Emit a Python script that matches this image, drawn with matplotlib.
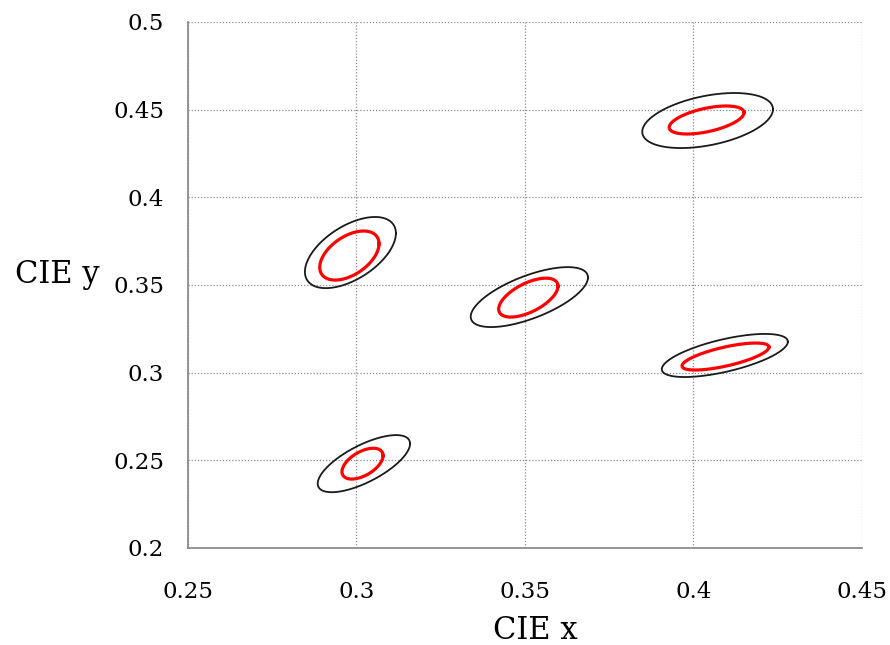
import numpy as np
import matplotlib
matplotlib.use("Agg")
import matplotlib.pyplot as plt

plt.rcParams['font.family'] = ['DejaVu Serif']

# ellipse params: centre (cx, cy), half extents (sx, sy), phase phi (tilt)
outer_cx = [0.4042, 0.2982, 0.3513, 0.4093, 0.3022]
outer_cy = [0.4438, 0.3685, 0.3431, 0.3098, 0.2481]
outer_sx = [0.0194, 0.0135, 0.0174, 0.0187, 0.0137]
outer_sy = [0.0157, 0.0203, 0.0171, 0.0123, 0.0163]
outer_phi = [1.15, 1.0, 0.86, 0.88, 0.80]

inner_cx = [0.4039, 0.2979, 0.3510, 0.4095, 0.3018]
inner_cy = [0.4441, 0.3668, 0.3428, 0.3092, 0.2481]
inner_sx = [0.0111, 0.0088, 0.0088, 0.0129, 0.0061]
inner_sy = [0.0080, 0.0140, 0.0111, 0.0077, 0.0088]
inner_phi = [1.02, 1.07, 0.94, 0.80, 1.02]

xticks = [0.25, 0.3, 0.35, 0.4, 0.45]
xticklabels = ["0.25", "0.3", "0.35", "0.4", "0.45"]
yticks = [0.2, 0.25, 0.3, 0.35, 0.4, 0.45, 0.5]
yticklabels = ["0.2", "0.25", "0.3", "0.35", "0.4", "0.45", "0.5"]

t = np.linspace(0, 2 * np.pi, 200)

fig = plt.figure(figsize=(8.9, 6.45), dpi=100)
ax = fig.add_axes([0.2112, 0.1504, 0.7573, 0.8155])

for cx, cy, sx, sy, ph in zip(outer_cx, outer_cy, outer_sx, outer_sy, outer_phi):
    ax.plot(cx + sx * np.cos(t), cy + sy * np.cos(t - ph), color="#1a1a1a", lw=1.3)
for cx, cy, sx, sy, ph in zip(inner_cx, inner_cy, inner_sx, inner_sy, inner_phi):
    ax.plot(cx + sx * np.cos(t), cy + sy * np.cos(t - ph), color="#ff0000", lw=2.3)

ax.set_xlim(0.25, 0.45)
ax.set_ylim(0.2, 0.5)
ax.set_xticks(xticks)
ax.set_xticklabels(xticklabels)
ax.set_yticks(yticks)
ax.set_yticklabels(yticklabels)
ax.tick_params(length=0, labelsize=16.5)
ax.tick_params(axis="x", pad=24)
ax.tick_params(axis="y", pad=17)

ax.grid(True, color="#8c8c8c", lw=0.9, linestyle=(0, (1, 1.5)))
ax.set_axisbelow(True)
for s in ["top", "right"]:
    ax.spines[s].set_visible(False)
for s in ["left", "bottom"]:
    ax.spines[s].set_color("#8c8c8c")
    ax.spines[s].set_linewidth(1.3)

ax.set_xlabel("CIE x", fontsize=22)
ax.xaxis.set_label_coords(0.515, -0.156)
ax.xaxis.label.set_va("center")
ax.set_ylabel("CIE y", fontsize=22, rotation=0, ha="left", va="center")
ax.yaxis.set_label_coords(-0.257, 0.519)

fig.savefig("out.png", dpi=100)
